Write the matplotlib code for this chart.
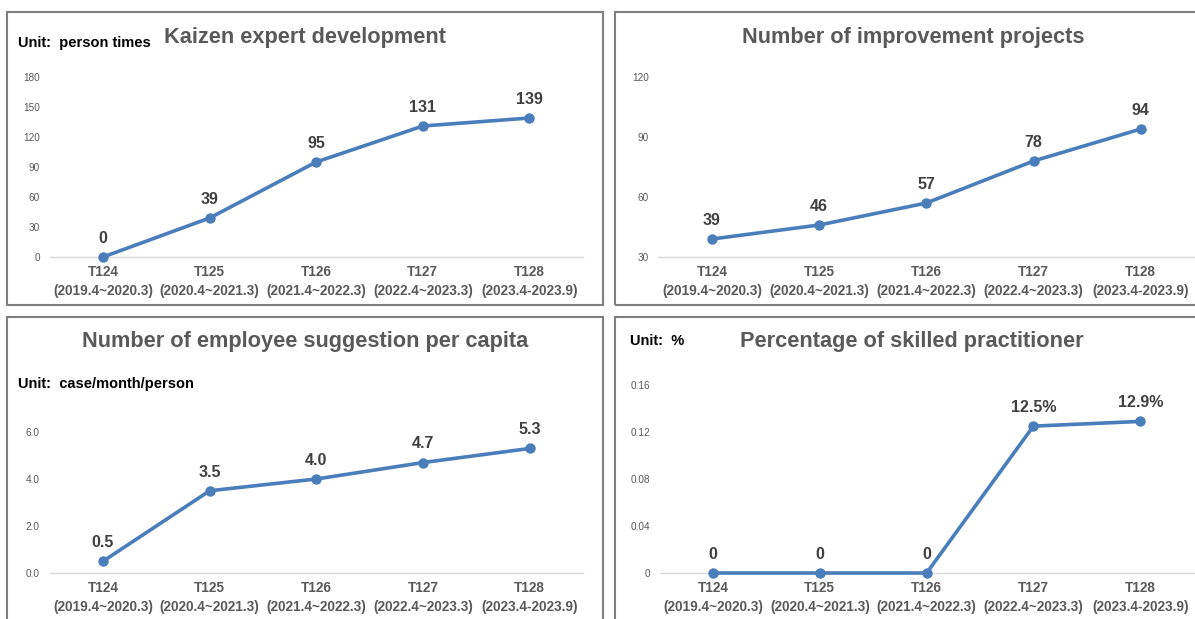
import matplotlib
matplotlib.use("Agg")
import matplotlib.pyplot as plt
from matplotlib.patches import Rectangle

plt.rcParams['font.family'] = ['Liberation Sans', 'DejaVu Sans']

categories = ["T124\n(2019.4~2020.3)", "T125\n(2020.4~2021.3)", "T126\n(2021.4~2022.3)",
              "T127\n(2022.4~2023.3)", "T128\n(2023.4-2023.9)"]

kaizen_experts = [0, 39, 95, 131, 139]
kaizen_labels = ["0", "39", "95", "131", "139"]

improvement_projects = [39, 46, 57, 78, 94]
improvement_labels = ["39", "46", "57", "78", "94"]

suggestions_per_capita = [0.5, 3.5, 4.0, 4.7, 5.3]
suggestion_labels = ["0.5", "3.5", "4.0", "4.7", "5.3"]

skilled_share = [0, 0, 0, 0.125, 0.129]
skilled_labels = ["0", "0", "0", "12.5%", "12.9%"]

W, H = 1195, 619
fig = plt.figure(figsize=(W / 100, H / 100), dpi=100)

LINE = "#4A7EBB"
TITLE_C = "#595959"
TICK_C = "#595959"
LABEL_C = "#404040"


def px_rect(x0, y0, x1, y1):
    return [x0 / W, 1 - y1 / H, (x1 - x0) / W, (y1 - y0) / H]


def panel_border(x0, y0, x1, y1):
    fig.patches.append(Rectangle((x0 / W, 1 - y1 / H), (x1 - x0) / W, (y1 - y0) / H,
                                 transform=fig.transFigure, fill=False,
                                 edgecolor="#7F7F7F", linewidth=1.5, zorder=0))


def panel(c0, s, ytop, ybot, ylim, yticks, yfmt, values, labels):
    left = c0 - 0.5 * s
    right = c0 + 4.5 * s
    ax = fig.add_axes(px_rect(left, ytop, right, ybot))
    x = list(range(len(values)))
    ax.plot(x, values, color=LINE, lw=2.6, marker="o", ms=6.5, clip_on=False, zorder=3)
    ax.set_xlim(-0.5, 4.5)
    ax.set_ylim(*ylim)
    ax.set_yticks(yticks)
    ax.set_yticklabels([yfmt(v) for v in yticks], fontsize=7.2, color=TICK_C)
    ax.set_xticks(x)
    ax.set_xticklabels(categories, fontsize=9.8, color=TICK_C, fontweight="bold",
                       linespacing=1.4)
    ax.tick_params(axis="both", length=0)
    ax.tick_params(axis="y", pad=7)
    ax.tick_params(axis="x", pad=6)
    for sp in ["top", "right", "left"]:
        ax.spines[sp].set_visible(False)
    ax.spines["bottom"].set_color("#D9D9D9")
    ax.spines["bottom"].set_linewidth(1.0)
    ax.patch.set_alpha(0)
    for xi, v, lab in zip(x, values, labels):
        ax.annotate(lab, (xi, v), xytext=(0, 8), textcoords="offset points",
                    ha="center", va="bottom", fontsize=11.5, fontweight="bold", color=LABEL_C)
    return ax


# panel borders
panel_border(7, 12, 603, 305)
panel_border(615, 12, 1200, 305)
panel_border(7, 317, 603, 625)
panel_border(615, 317, 1200, 625)

# Top-left
panel(103, 106.6, 77, 257, (0, 180), [0, 30, 60, 90, 120, 150, 180],
      lambda v: f"{v:.0f}", kaizen_experts, kaizen_labels)
fig.text(305 / W, 1 - 37 / H, "Kaizen expert development", ha="center", va="center",
         fontsize=15.7, fontweight="bold", color=TITLE_C)
fig.text(18 / W, 1 - 43 / H, "Unit:  person times", ha="left", va="center",
         fontsize=10.5, fontweight="bold", color="black")

# Top-right
panel(712, 107.2, 77, 257, (30, 120), [30, 60, 90, 120],
      lambda v: f"{v:.0f}", improvement_projects, improvement_labels)
fig.text(913 / W, 1 - 37 / H, "Number of improvement projects", ha="center", va="center",
         fontsize=15.7, fontweight="bold", color=TITLE_C)

# Bottom-left
panel(103, 106.7, 385, 573, (0, 8), [0, 2, 4, 6],
      lambda v: f"{v:.1f}", suggestions_per_capita, suggestion_labels)
fig.text(305 / W, 1 - 342 / H, "Number of employee suggestion per capita", ha="center",
         va="center", fontsize=15.7, fontweight="bold", color=TITLE_C)
fig.text(18 / W, 1 - 384 / H, "Unit:  case/month/person", ha="left", va="center",
         fontsize=10.5, fontweight="bold", color="black")

# Bottom-right
panel(713, 106.8, 385, 573, (0, 0.16), [0, 0.04, 0.08, 0.12, 0.16],
      lambda v: "0" if v == 0 else f"{v:g}", skilled_share, skilled_labels)
fig.text(912 / W, 1 - 342 / H, "Percentage of skilled practitioner", ha="center",
         va="center", fontsize=15.7, fontweight="bold", color=TITLE_C)
fig.text(630 / W, 1 - 341 / H, "Unit:  %", ha="left", va="center",
         fontsize=10.5, fontweight="bold", color="black")

fig.savefig("out.png", dpi=100, facecolor="white")
